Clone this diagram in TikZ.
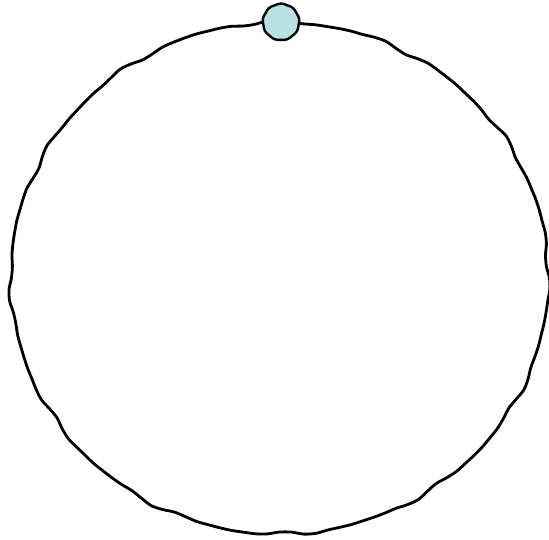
\documentclass[tikz,border=0pt]{standalone}
\usetikzlibrary{shapes.geometric}
\definecolor{nodeteal}{HTML}{B9E0E3}
\tikzset{
  ring/.style={line width=2.8pt, black, line join=round},
  dot/.style={regular polygon, regular polygon sides=9, minimum size=38pt, inner sep=0pt,
    draw=black, line width=2.4pt, fill=nodeteal, rounded corners=3pt}
}
\begin{document}
\begin{tikzpicture}[x=1pt,y=-1pt]
\useasboundingbox (0,0) rectangle (549,540);
\draw[ring] plot[smooth cycle, samples=140, domain=0:357.43, variable=\t]
  ({279.5+(269+1.0*sin(19*\t)+0.9*sin(31*\t+30)+0.5*sin(43*\t+70))*cos(\t)},
   {278+(256+1.0*sin(19*\t)+0.9*sin(31*\t+30)+0.5*sin(43*\t+70))*sin(\t)});
\node[dot] (n) at (281,22) {};
\end{tikzpicture}
\end{document}
